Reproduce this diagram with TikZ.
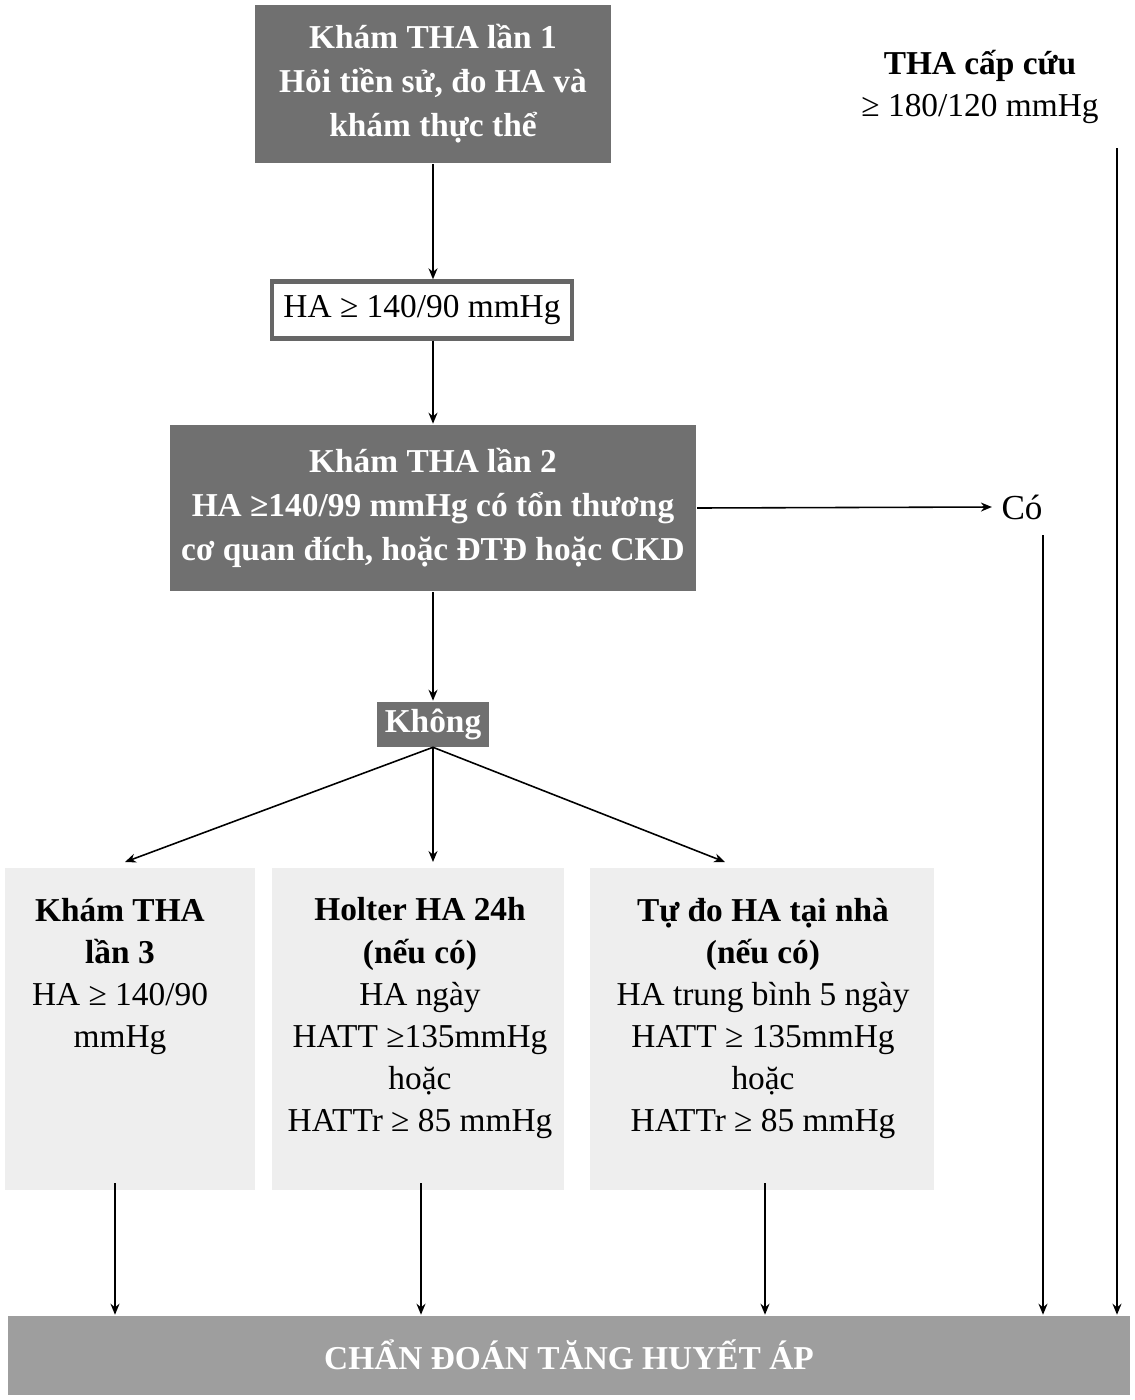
\documentclass[tikz,border=0pt]{standalone}
\usepackage{fontspec}
\setmainfont{Liberation Serif}
\usetikzlibrary{arrows.meta, positioning}
\definecolor{thadark}{RGB}{112,112,112}
\definecolor{thamid}{RGB}{158,158,158}
\definecolor{thalight}{RGB}{238,238,238}

\begin{document}
\begin{tikzpicture}[
  x=0.02cm, y=-0.02cm,
  font=\fontsize{19}{24}\selectfont,
  >={Stealth[length=2.2mm, width=1.8mm]},
  darkbox/.style={fill=thadark, text=white, font=\fontsize{19}{25}\selectfont\bfseries, align=center, inner sep=0pt},
  softbox/.style={fill=thalight, inner sep=0pt},
  lbl/.style={align=center, inner sep=0pt, anchor=north},
  every path/.style={line width=0.9pt},
]
  \useasboundingbox (0,0) rectangle (1135,1400);

  % Main column
  \node[darkbox, minimum width=7.14cm, minimum height=3.16cm] (visit1) at (433,84)
    {Khám THA lần 1\\Hỏi tiền sử, đo HA và\\khám thực thể};
  \node[draw=black!60, line width=2.5pt, fill=white, minimum width=6.0cm, minimum height=1.14cm, inner sep=0pt] (ha1) at (422,310)
    {HA ≥ 140/90 mmHg};
  \node[darkbox, minimum width=10.54cm, minimum height=3.34cm] (visit2) at (433,508)
    {Khám THA lần 2\\HA ≥140/99 mmHg có tổn thương\\cơ quan đích, hoặc ĐTĐ hoặc CKD};
  \node[darkbox, minimum width=2.26cm, minimum height=0.9cm] (khong) at (433,724) {Không};

  % Right side
  \node[inner sep=5pt, font=\fontsize{20}{24}\selectfont] (co) at (1022,507) {Có};
  \node[align=center, inner sep=0pt] (emerg) at (980,87) {\textbf{THA cấp cứu}\\≥ 180/120 mmHg};
  \coordinate (coDown) at (1043,535);
  \coordinate (emDown) at (1117,148);

  % Three options
  \node[softbox, minimum width=5.0cm, minimum height=6.44cm] (bgL) at (130,1029) {};
  \node[softbox, minimum width=5.86cm, minimum height=6.44cm] (bgM) at (418,1029) {};
  \node[softbox, minimum width=6.9cm, minimum height=6.44cm] (bgR) at (762,1029) {};
  \node[lbl] (visit3) at (120,897)
    {\textbf{Khám THA}\\\textbf{lần 3}\\HA ≥ 140/90\\mmHg};
  \node[lbl] (holter) at (420,897)
    {\textbf{Holter HA 24h}\\\textbf{(nếu có)}\\HA ngày\\HATT ≥135mmHg\\hoặc\\HATTr ≥ 85 mmHg};
  \node[lbl] (home) at (763,897)
    {\textbf{Tự đo HA tại nhà}\\\textbf{(nếu có)}\\HA trung bình 5 ngày\\HATT ≥ 135mmHg\\hoặc\\HATTr ≥ 85 mmHg};
  \coordinate (tL) at (125,862);
  \coordinate (tM) at (433,862);
  \coordinate (tR) at (725,862);
  \coordinate (bL) at (115,1183);
  \coordinate (bM) at (421,1183);
  \coordinate (bR) at (765,1183);

  % Diagnosis
  \node[fill=thamid, text=white, font=\fontsize{19}{22}\selectfont\bfseries, minimum width=22.44cm, minimum height=1.58cm, inner sep=0pt] (diag) at (569,1355)
    {CHẨN ĐOÁN TĂNG HUYẾT ÁP};

  % Connectors
  \draw[->] (visit1.south) -- (visit1.south |- ha1.north);
  \draw[->] (visit1.south |- ha1.south) -- (visit1.south |- visit2.north);
  \draw[->] (visit2.south) -- (khong.north);
  \draw[->] (visit2.east) -- (co.west);
  \draw[->] (khong.south) -- (tL);
  \draw[->] (khong.south) -- (tM);
  \draw[->] (khong.south) -- (tR);
  \draw[->] (bL) -- (bL |- diag.north);
  \draw[->] (bM) -- (bM |- diag.north);
  \draw[->] (bR) -- (bR |- diag.north);
  \draw[->] (coDown) -- (coDown |- diag.north);
  \draw[->] (emDown) -- (emDown |- diag.north);
\end{tikzpicture}
\end{document}
